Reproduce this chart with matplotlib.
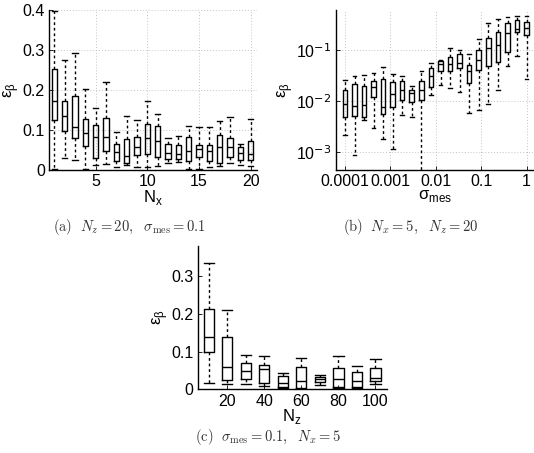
import numpy as np
import matplotlib
matplotlib.use("Agg")
import matplotlib.pyplot as plt

plt.rcParams["font.family"] = ["Liberation Sans", "DejaVu Sans"]
plt.rcParams["mathtext.fontset"] = "dejavusans"

# ── (a) erro vs N_x  (N_z = 20, sigma = 0.1) ─────────────────────────
nx_pos = list(range(1, 21))
a_lo  = [0.002, 0.029, 0.025, 0.003, 0.013, 0.014, 0.006, 0.012, 0.008, 0.008,
         0.009, 0.018, 0.020, 0.002, 0.003, 0.006, 0.010, 0.017, 0.013, 0.010]
a_q1  = [0.124, 0.097, 0.080, 0.060, 0.029, 0.048, 0.023, 0.018, 0.038, 0.040,
         0.031, 0.028, 0.027, 0.021, 0.031, 0.021, 0.018, 0.033, 0.024, 0.024]
a_med = [0.172, 0.134, 0.107, 0.092, 0.082, 0.082, 0.045, 0.035, 0.056, 0.080,
         0.071, 0.041, 0.039, 0.048, 0.052, 0.046, 0.058, 0.058, 0.042, 0.039]
a_q3  = [0.252, 0.172, 0.184, 0.128, 0.113, 0.129, 0.065, 0.077, 0.083, 0.115,
         0.111, 0.065, 0.062, 0.082, 0.063, 0.063, 0.086, 0.079, 0.056, 0.073]
a_hi  = [0.398, 0.275, 0.293, 0.203, 0.155, 0.220, 0.094, 0.136, 0.124, 0.172,
         0.140, 0.080, 0.084, 0.111, 0.107, 0.108, 0.122, 0.132, 0.065, 0.128]

# ── (b) erro vs sigma_mes  (N_x = 5, N_z = 20) ───────────────────────
sig_pos = np.logspace(-4, 0, 20)
b_lo  = [0.00213, 0.00086, 0.0042, 0.0030, 0.0018, 0.00115, 0.00526, 0.0049, 1e-5, 0.0134,
         0.0205, 0.0185, 0.0151, 0.00585, 0.0066, 0.0087, 0.0163, 0.0484, 0.077, 0.0277]
b_q1  = [0.0049, 0.0050, 0.0049, 0.0121, 0.0055, 0.0077, 0.0104, 0.0096, 0.0107, 0.019,
         0.0392, 0.0392, 0.0456, 0.0227, 0.0404, 0.0484, 0.059, 0.093, 0.223, 0.203]
b_med = [0.0089, 0.0079, 0.0085, 0.019, 0.0077, 0.0141, 0.0163, 0.0145, 0.0168, 0.0308,
         0.0547, 0.0547, 0.0564, 0.039, 0.0636, 0.108, 0.125, 0.213, 0.255, 0.267]
b_q3  = [0.0163, 0.0214, 0.0199, 0.0246, 0.027, 0.0238, 0.025, 0.0168, 0.025, 0.0449,
         0.0608, 0.074, 0.086, 0.0507, 0.100, 0.170, 0.230, 0.335, 0.400, 0.350]
b_hi  = [0.0265, 0.0313, 0.032, 0.0358, 0.047, 0.0348, 0.0308, 0.0196, 0.0386, 0.0564,
         0.0636, 0.111, 0.103, 0.086, 0.164, 0.335, 0.407, 0.453, 0.467, 0.467]

# ── (c) erro vs N_z  (sigma = 0.1, N_x = 5) ──────────────────────────
nz_pos = [10, 20, 30, 40, 50, 60, 70, 80, 90, 100]
c_lo  = [0.018, 0.013, 0.013, 0.010, 0.003, 0.002, 0.012, 0.003, 0.004, 0.013]
c_q1  = [0.098, 0.025, 0.027, 0.018, 0.007, 0.004, 0.020, 0.007, 0.007, 0.022]
c_med = [0.138, 0.058, 0.049, 0.054, 0.016, 0.022, 0.027, 0.028, 0.022, 0.031]
c_q3  = [0.213, 0.138, 0.071, 0.065, 0.035, 0.060, 0.034, 0.056, 0.047, 0.056]
c_hi  = [0.335, 0.209, 0.091, 0.087, 0.044, 0.084, 0.038, 0.087, 0.062, 0.081]

TICK_FS = 11.5
EPS = "ε$_\\mathregular{β}$"


def caixas(ax, pos, lo, q1, med, q3, hi, width, log=False):
    stats = []
    for l, a, m, b, h in zip(lo, q1, med, q3, hi):
        stats.append({"whislo": l, "q1": a, "med": m, "q3": b, "whishi": h, "fliers": []})
    if log:
        # largura constante em escala log
        widths = [p * (10 ** width - 10 ** -width) for p in pos]
    else:
        widths = width
    ax.bxp(stats, positions=pos, widths=widths, showfliers=False,
           boxprops=dict(color="black", linewidth=1.0),
           medianprops=dict(color="black", linewidth=1.0),
           whiskerprops=dict(color="black", linewidth=1.0, linestyle=(0, (2, 2))),
           capprops=dict(color="black", linewidth=1.0),
           capwidths=widths if not log else [w * 0.8 for w in widths],
           manage_ticks=False)


def estilo(ax, grid=True):
    for s in ["top", "right"]:
        ax.spines[s].set_visible(False)
    for s in ["left", "bottom"]:
        ax.spines[s].set_linewidth(1.0)
    ax.tick_params(direction="in", length=3, labelsize=TICK_FS, width=0.6, pad=3)
    ax.tick_params(which="minor", length=0)
    if grid:
        ax.grid(True, which="major", linestyle=(0, (1, 2)), color="#c4c4c4", linewidth=0.7)
        ax.set_axisbelow(True)


fig = plt.figure(figsize=(5.34, 4.53), dpi=100)
fig.patch.set_facecolor("white")

# (a)
ax1 = fig.add_axes([0.092, 0.625, 0.389, 0.353])
caixas(ax1, nx_pos, a_lo, a_q1, a_med, a_q3, a_hi, 0.5)
ax1.set_xlim(0.5, 20.6)
ax1.set_ylim(0, 0.4)
ax1.set_xticks([5, 10, 15, 20])
ax1.set_xticklabels(["5", "10", "15", "20"])
ax1.set_yticks([0, 0.1, 0.2, 0.3, 0.4])
ax1.set_yticklabels(["0", "0.1", "0.2", "0.3", "0.4"])
estilo(ax1)
ax1.set_xlabel(r"N$_\mathregular{x}$", fontsize=12, labelpad=-1)
ax1.set_ylabel(EPS, fontsize=12, labelpad=1)

# (b)
ax2 = fig.add_axes([0.629, 0.625, 0.37, 0.353])
caixas(ax2, sig_pos, b_lo, b_q1, b_med, b_q3, b_hi, 0.05, log=True)
ax2.set_xscale("log")
ax2.set_yscale("log")
ax2.set_xlim(10 ** -4.2, 10 ** 0.15)
ax2.set_ylim(10 ** -3.35, 10 ** -0.21)
ax2.set_xticks([1e-4, 1e-3, 1e-2, 1e-1, 1])
ax2.set_xticklabels(["0.0001", "0.001", "0.01", "0.1", "1"])
ax2.set_yticks([1e-3, 1e-2, 1e-1])
ax2.set_yticklabels([r"10$^{-3}$", r"10$^{-2}$", r"10$^{-1}$"])
estilo(ax2)
ax2.set_xlabel("σ$_\\mathregular{mes}$", fontsize=12, labelpad=-1)
ax2.set_ylabel(EPS, fontsize=12, labelpad=1)

# (c)
ax3 = fig.add_axes([0.370, 0.1405, 0.354, 0.317])
caixas(ax3, nz_pos, c_lo, c_q1, c_med, c_q3, c_hi, 5.5)
ax3.set_xlim(4, 106)
ax3.set_ylim(0, 0.38)
ax3.set_xticks([20, 40, 60, 80, 100])
ax3.set_xticklabels(["20", "40", "60", "80", "100"])
ax3.set_yticks([0, 0.1, 0.2, 0.3])
ax3.set_yticklabels(["0", "0.1", "0.2", "0.3"])
estilo(ax3, grid=False)
ax3.set_xlabel(r"N$_\mathregular{z}$", fontsize=12, labelpad=-1)
ax3.set_ylabel(EPS, fontsize=12, labelpad=1)

# legendas das subfiguras (estilo LaTeX)
cap = dict(ha="center", va="center", fontsize=10.5, color="#333333", math_fontfamily="cm")
fig.text(129 / 534, 1 - 227 / 453,
         r"$\mathrm{(a)}\ \ N_z=20,\ \ \sigma_{\mathrm{mes}}=0.1$", **cap)
fig.text(411 / 534, 1 - 227 / 453,
         r"$\mathrm{(b)}\ \ N_x=5,\ \ N_z=20$", **cap)
fig.text(268 / 534, 1 - 437 / 453,
         r"$\mathrm{(c)}\ \ \sigma_{\mathrm{mes}}=0.1,\ \ N_x=5$", **cap)

fig.savefig("out.png", dpi=100, facecolor="white")
